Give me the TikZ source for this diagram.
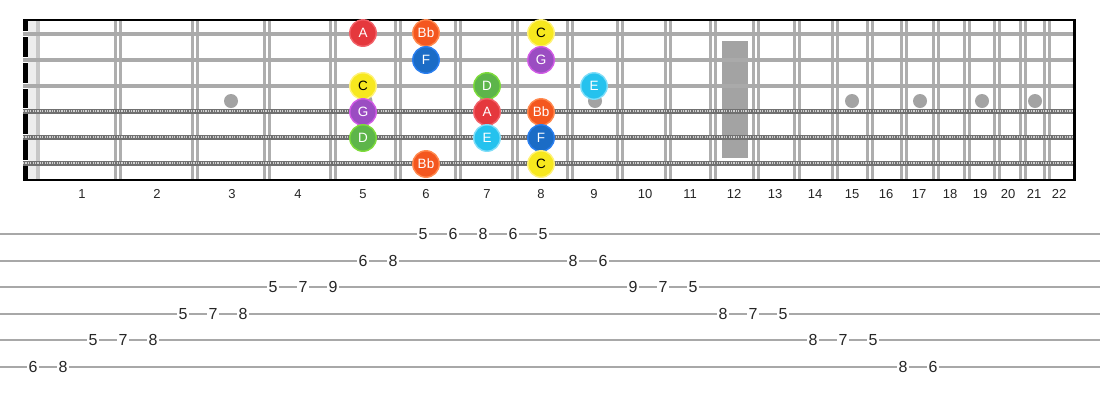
\documentclass[tikz,border=0pt]{standalone}
\usepackage{fontspec}
\setmainfont{Liberation Sans}
\definecolor{nA}{HTML}{E5383D}\definecolor{nAb}{HTML}{F2626A}
\definecolor{nB}{HTML}{F4571F}\definecolor{nBb}{HTML}{FF8A50}
\definecolor{nC}{HTML}{F7E81E}\definecolor{nCb}{HTML}{FFF27A}
\definecolor{nD}{HTML}{5DB54A}\definecolor{nDb}{HTML}{7EDC3A}
\definecolor{nE}{HTML}{25C2EE}\definecolor{nEb}{HTML}{7FDDF8}
\definecolor{nF}{HTML}{1B6CC6}\definecolor{nFb}{HTML}{2A7FF0}
\definecolor{nG}{HTML}{9B4DC2}\definecolor{nGb}{HTML}{D25BE6}
\definecolor{fretc}{HTML}{AEAEAE}
\definecolor{strc}{HTML}{AAAAAA}
\definecolor{woundc}{HTML}{707070}
\definecolor{woundl}{HTML}{D0D0D0}
\definecolor{inlay}{HTML}{A3A3A3}
\definecolor{tabc}{HTML}{A8A8A8}
\tikzset{
  notebase/.style={circle, minimum size=26.5pt, inner sep=0pt, line width=1.4pt,
    font=\fontsize{13.5}{13.5}\selectfont, text=white},
  noteA/.style={notebase, fill=nA, draw=nAb},
  noteBb/.style={notebase, fill=nB, draw=nBb},
  noteC/.style={notebase, fill=nC, draw=nCb, text=black},
  noteD/.style={notebase, fill=nD, draw=nDb},
  noteE/.style={notebase, fill=nE, draw=nEb},
  noteF/.style={notebase, fill=nF, draw=nFb},
  noteG/.style={notebase, fill=nG, draw=nGb},
  fretnum/.style={font=\fontsize{13}{13}\selectfont, text=black!85, inner sep=0pt},
  tabnum/.style={font=\fontsize{16}{16}\selectfont, text=black!85, fill=white, inner sep=2pt},
  fretline/.style={draw=fretc, line width=2.2pt},
  plainstr/.style={draw=strc, line width=3.2pt},
  woundbase/.style={draw=woundc, line width=5pt},
  woundtop/.style={draw=woundl, line width=2.6pt, dash pattern=on 1.2pt off 1.2pt},
  tabline/.style={draw=tabc, line width=2pt},
  inlaydot/.style={circle, fill=inlay, minimum size=14pt, inner sep=0pt},
}
\begin{document}
\begin{tikzpicture}[x=1pt,y=-1pt]
\useasboundingbox (0,0) rectangle (1100,400);
\fill[white] (0,0) rectangle (1100,400);
% nut strip
\fill[black!7] (27.5,20) rectangle (36,180);
\fill[black!22] (36,20) rectangle (40,180);
% frets
\foreach \f [count=\n] in {118,195,267,333,398,458,515,570,620,668,713,756,797,835,870,904,936,967,997,1023,1047}{
  \draw[fretline] (\f-2.5,20) -- (\f-2.5,180);
  \draw[fretline] (\f+2.5,20) -- (\f+2.5,180);
}
% inlays
\foreach \x/\nm in {231/i3,365.5/i5,486.5/i7,595/i9,852/i15,920/i17,982/i19,1035/i21}{
  \node[inlaydot] (\nm) at (\x,101) {};
}
\fill[inlay] (722,40.5) rectangle (748,157.5);
% nut
\fill[black] (23,20) rectangle (27.5,180);
\foreach \y in {34,60,86,111,137,163}{
  \draw[white, line width=6pt] (23,\y) -- (27.5,\y);
}
% strings
\foreach \y in {34,60,86}{
  \draw[plainstr] (23,\y) -- (1074,\y);
}
\foreach \y in {111,137,163}{
  \draw[woundbase] (23,\y) -- (1074,\y);
  \draw[woundtop] (23,\y) -- (1074,\y);
}
% borders
\draw[black, line width=2pt] (23,20) -- (1074,20);
\draw[black, line width=2pt] (23,180) -- (1074,180);
\draw[black, line width=3pt] (1074,19) -- (1074,181);
% notes
\node[noteA]  (n1a) at (363,33) {A};
\node[noteBb] (n1b) at (426,33) {Bb};
\node[noteC]  (n1c) at (541,33) {C};
\node[noteF]  (n2f) at (426,60) {F};
\node[noteG]  (n2g) at (541,60) {G};
\node[noteC]  (n3c) at (363,86) {C};
\node[noteD]  (n3d) at (487,86) {D};
\node[noteE]  (n3e) at (594,86) {E};
\node[noteG]  (n4g) at (363,112) {G};
\node[noteA]  (n4a) at (487,112) {A};
\node[noteBb] (n4b) at (541,112) {Bb};
\node[noteD]  (n5d) at (363,138) {D};
\node[noteE]  (n5e) at (487,138) {E};
\node[noteF]  (n5f) at (541,138) {F};
\node[noteBb] (n6b) at (426,164) {Bb};
\node[noteC]  (n6c) at (541,164) {C};
% fret numbers
\foreach \x [count=\n] in {82,157,232,298,363,426,487,541,594,645,690,734,775,815,852,886,919,950,980,1008,1034,1059}{
  \node[fretnum] (fn\n) at (\x,194) {\n};
}
% tab lines
\foreach \y [count=\k] in {234,261,287,314,340,367}{
  \draw[tabline] (0,\y) -- (1100,\y);
}
% tab numbers
\foreach \l/\d [count=\i from 0] in {6/6,6/8,5/5,5/7,5/8,4/5,4/7,4/8,3/5,3/7,3/9,2/6,2/8,1/5,1/6,1/8,1/6,1/5,2/8,2/6,3/9,3/7,3/5,4/8,4/7,4/5,5/8,5/7,5/5,6/8,6/6}{
  \pgfmathsetmacro{\ty}{234+26.6*(\l-1)}
  \node[tabnum] (t\i) at (33+30*\i,\ty) {\d};
}
\end{tikzpicture}
\end{document}
